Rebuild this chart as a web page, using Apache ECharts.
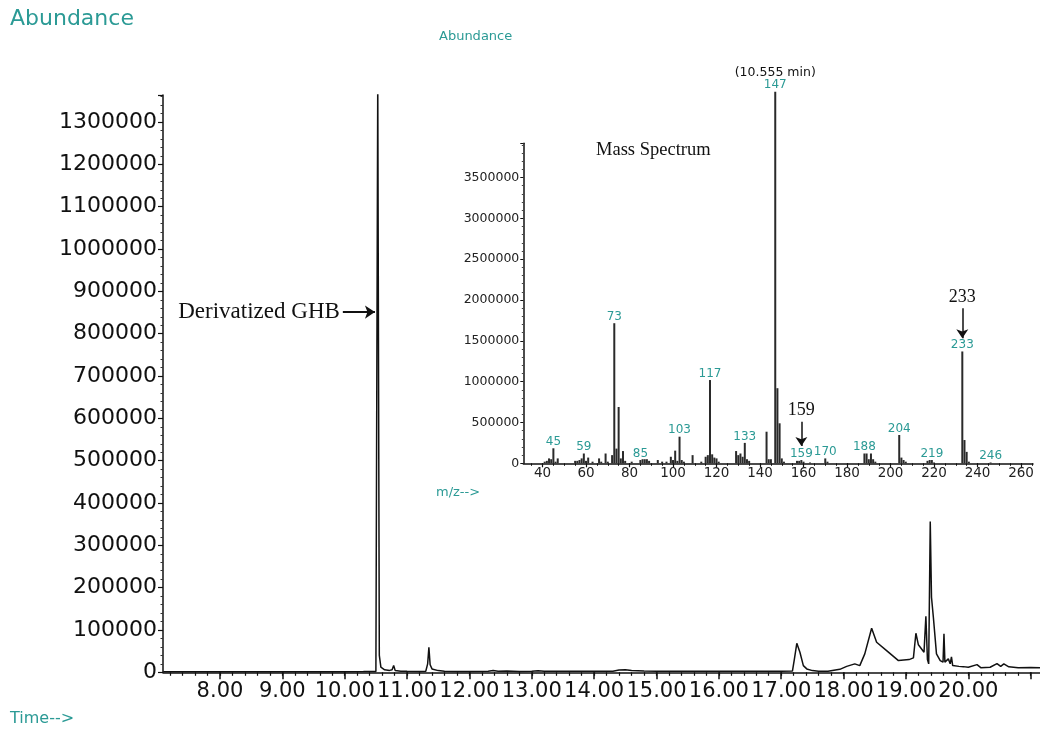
<!DOCTYPE html>
<html><head><meta charset="utf-8">
<script src="https://cdn.jsdelivr.net/npm/echarts@6/dist/echarts.min.js"></script>
<style>html,body{margin:0;padding:0;background:#fff}#c{width:1040px;height:735px}</style>
</head><body><div id="c"></div>
<script>
// ---- Chromatogram (Time vs Abundance) ----
const chromTime = [7.09,7.5,8.0,8.5,9.0,9.5,10.0,10.3,10.5,10.52,10.53,10.545,10.555,10.58,10.64,10.72,10.76,10.785,10.81,10.9,11.0,11.2,11.3,11.33,11.35,11.37,11.4,11.5,11.6,11.8,12.0,12.3,12.38,12.46,12.6,12.8,13.0,13.1,13.2,13.5,14.0,14.3,14.4,14.5,14.6,14.8,15.0,15.5,16.0,16.5,17.0,17.18,17.21,17.25,17.3,17.355,17.41,17.5,17.6,17.75,17.94,18.05,18.18,18.26,18.34,18.45,18.53,18.69,18.88,19.05,19.12,19.16,19.2,19.23,19.29,19.32,19.345,19.365,19.39,19.41,19.44,19.49,19.55,19.595,19.61,19.625,19.68,19.71,19.73,19.75,19.85,19.92,20.0,20.14,20.2,20.35,20.46,20.52,20.57,20.65,20.8,21.0,21.15];
const chromAbund = [1500,1500,1400,1500,1500,1400,1500,1600,2000,5000,1400000,1400000,40000,12000,6000,4500,6000,16000,4000,2500,2200,2000,2500,20000,59000,18000,8000,4000,2500,2000,2000,2500,4000,2500,2800,2000,2300,3500,2300,2200,2300,2500,5500,6000,4000,2800,2700,2500,2400,2600,2700,3000,30000,68600,47300,15800,8000,4000,2500,2500,7000,14000,19900,15800,43500,104000,71000,51300,27700,30000,34000,92200,65000,59100,47300,132400,30000,19900,356000,177300,130000,43500,27700,24000,90800,24000,31700,20000,36600,15800,14000,13400,12000,18200,11000,12000,20700,14000,19900,13000,11000,11500,11000];
const timeTicks = [8,9,10,11,12,13,14,15,16,17,18,19,20,21];
const timeLabels = [8,9,10,11,12,13,14,15,16,17,18,19,20];
const timeMin = 7.086, timeMax = 21.15;
const abundMax = 1364000, abundStep = 100000;

// ---- Mass spectrum at 10.555 min ----
const msMz = [41,42,43,44,45,46,47,55,56,57,58,59,60,61,63,66,67,69,70,72,73,74,75,76,77,78,81,85,86,87,88,89,93,95,97,99,100,101,102,103,104,105,109,113,115,116,117,118,119,120,121,129,130,131,132,133,134,135,143,144,145,147,148,149,150,151,157,158,159,160,163,170,171,188,189,190,191,192,193,204,205,206,207,217,218,219,220,233,234,235,236,246];
const msAbund = [20000,30000,60000,50000,184000,20000,60000,30000,30000,40000,60000,120000,30000,70000,20000,60000,20000,120000,20000,100000,1716000,180000,690000,60000,150000,30000,20000,40000,50000,50000,50000,30000,40000,20000,20000,80000,40000,155000,30000,326000,40000,20000,100000,20000,80000,100000,1020000,110000,70000,60000,20000,150000,100000,120000,80000,250000,50000,30000,387000,50000,50000,4550000,920000,490000,60000,20000,30000,30000,40000,20000,10000,60000,20000,120000,120000,50000,120000,50000,20000,347000,70000,40000,20000,30000,40000,40000,10000,1370000,285000,140000,20000,10000];
const msLabelMz = [45,59,73,85,103,117,133,147,159,170,188,204,219,233,246];
const mzTicks = [40,60,80,100,120,140,160,180,200,220,240,260];
const mzMin = 31.17, mzMax = 265.5;
const msMax = 3920000, msStep = 500000;

const TEAL = '#2b9a95', INK = '#111';
const SANS = 'DejaVu Sans', SERIF = 'Liberation Serif';

const minorTime = [];
for (let v = 7.2; v < timeMax; v += 0.2) minorTime.push(+v.toFixed(1));
const minorMz = [];
for (let v = 35; v < mzMax; v += 5) minorMz.push(v);

const chart = echarts.init(document.getElementById('c'), null, {renderer: 'canvas'});
const msData = msMz.map((m, i) => {
  const item = {value: [m, msAbund[i]]};
  if (msLabelMz.indexOf(m) >= 0) {
    item.label = {show: true};
    if (m === 147) item.label.formatter = '{a|(10.555 min)}\n{b|147}';
  }
  return item;
});
const plain = v => String(Math.round(v));

chart.setOption({
  animation: false,
  backgroundColor: '#fff',
  title: [
    {text: 'Abundance', left: 10, top: 8, padding: 0, textStyle: {color: TEAL, fontFamily: SANS, fontSize: 22, fontWeight: 'normal'}},
    {text: 'Abundance', left: 439, top: 30, padding: 0, textStyle: {color: TEAL, fontFamily: SANS, fontSize: 13, fontWeight: 'normal'}},
    {text: 'Mass Spectrum', left: 596, top: 141, padding: 0, textStyle: {color: INK, fontFamily: SERIF, fontSize: 18.5, fontWeight: 'normal'}},
    {text: 'm/z-->', left: 436, top: 486, padding: 0, textStyle: {color: TEAL, fontFamily: SANS, fontSize: 13, fontWeight: 'normal'}},
    {text: 'Time-->', left: 10, top: 711, padding: 0, textStyle: {color: TEAL, fontFamily: SANS, fontSize: 16, fontWeight: 'normal'}}
  ],
  grid: [
    {left: 163, right: 0, top: 95, bottom: 62.7},
    {left: 523.3, top: 143.3, width: 509.7, height: 320}
  ],
  xAxis: [
    {type: 'value', gridIndex: 0, position: 'bottom', min: timeMin, max: timeMax,
     axisLine: {show: true, onZero: false, lineStyle: {color: INK, width: 1.5}},
     axisTick: {show: true, customValues: timeTicks, length: 7, lineStyle: {color: INK, width: 1.5}},
     axisLabel: {customValues: timeLabels, formatter: v => v.toFixed(2), fontFamily: SANS, fontSize: 21, color: INK, margin: 9},
     splitLine: {show: false}},
    {type: 'value', gridIndex: 0, position: 'bottom', min: timeMin, max: timeMax,
     axisLine: {show: false, onZero: false},
     axisTick: {show: true, customValues: minorTime, length: 3.5, lineStyle: {color: INK, width: 1.2}},
     axisLabel: {show: false}, splitLine: {show: false}},
    {type: 'value', gridIndex: 1, position: 'bottom', min: mzMin, max: mzMax,
     axisLine: {show: true, onZero: false, lineStyle: {color: INK, width: 1.5}},
     axisTick: {show: true, customValues: mzTicks, length: 4, lineStyle: {color: INK, width: 1.2}},
     axisLabel: {customValues: mzTicks, fontFamily: SANS, fontSize: 13.5, color: '#222', margin: 3},
     splitLine: {show: false}},
    {type: 'value', gridIndex: 1, position: 'bottom', min: mzMin, max: mzMax,
     axisLine: {show: false, onZero: false},
     axisTick: {show: true, customValues: minorMz, length: 2.5, lineStyle: {color: INK, width: 1}},
     axisLabel: {show: false}, splitLine: {show: false}}
  ],
  yAxis: [
    {type: 'value', gridIndex: 0, min: 0, max: abundMax, interval: abundStep,
     axisLine: {show: true, lineStyle: {color: INK, width: 1.5}},
     axisTick: {show: true, length: 5, lineStyle: {color: INK, width: 1.2}},
     minorTick: {show: true, splitNumber: 5, length: 2.5, lineStyle: {color: '#333', width: 1}},
     axisLabel: {formatter: plain, fontFamily: SANS, fontSize: 22, color: INK, margin: 6, showMaxLabel: false},
     splitLine: {show: false}, minorSplitLine: {show: false}},
    {type: 'value', gridIndex: 1, min: 0, max: msMax, interval: msStep,
     axisLine: {show: true, lineStyle: {color: INK, width: 1.5}},
     axisTick: {show: true, length: 3, lineStyle: {color: INK, width: 1}},
     minorTick: {show: true, splitNumber: 5, length: 1.5, lineStyle: {color: '#444', width: 1}},
     axisLabel: {formatter: plain, fontFamily: SANS, fontSize: 12.5, color: '#222', margin: 4, showMaxLabel: false},
     splitLine: {show: false}, minorSplitLine: {show: false}}
  ],
  series: [
    {type: 'line', xAxisIndex: 0, yAxisIndex: 0, showSymbol: false, symbol: 'none',
     data: chromTime.map((t, i) => [t, chromAbund[i]]),
     lineStyle: {color: INK, width: 1.5}, clip: true, silent: true,
     markLine: {silent: true, symbol: ['none', 'arrow'], symbolSize: 10,
       lineStyle: {color: INK, width: 2, type: 'solid'},
       label: {show: true, position: 'start', distance: 3, formatter: 'Derivatized GHB', color: INK, fontFamily: SERIF, fontSize: 23},
       data: [[{coord: [9.97, 851000]}, {coord: [10.485, 851000]}]]}},
    {type: 'bar', xAxisIndex: 2, yAxisIndex: 1, barWidth: 2, clip: false, silent: true,
     itemStyle: {color: '#2a2a2a'},
     label: {show: false, position: 'top', distance: 0.5, color: TEAL, fontFamily: SANS, fontSize: 12, lineHeight: 12,
       formatter: p => String(p.value[0]),
       rich: {a: {color: INK, fontFamily: SANS, fontSize: 12.5, lineHeight: 13}, b: {color: TEAL, fontFamily: SANS, fontSize: 12, lineHeight: 12}}},
     data: msData,
     markLine: {silent: true, symbol: ['none', 'arrow'], symbolSize: 9,
       lineStyle: {color: INK, width: 1.5, type: 'solid'},
       label: {show: true, position: 'start', distance: 2, color: INK, fontFamily: SERIF, fontSize: 18, formatter: p => p.name},
       data: [
         [{name: '233', coord: [233, 1900000]}, {coord: [233, 1532000]}],
         [{name: '159', coord: [159, 510000]}, {coord: [159, 212000]}]
       ]}}
  ]
});
</script></body></html>
